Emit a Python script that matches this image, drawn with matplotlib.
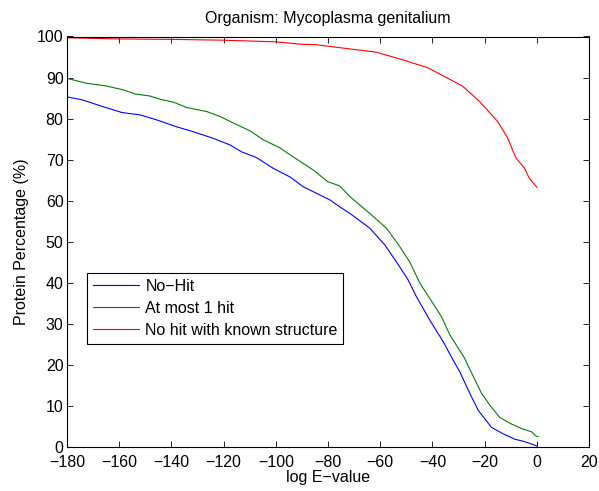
import matplotlib
matplotlib.use("Agg")
import matplotlib.pyplot as plt

plt.rcParams['font.family'] = ['Liberation Sans', 'DejaVu Sans']

title = "Organism: Mycoplasma genitalium"
xlabel = "log E\u2212value"
ylabel = "Protein Percentage (%)"
labels = ["No\u2212Hit", "At most 1 hit", "No hit with known structure"]

nohit_x = [-180, -173.8, -166.2, -159.1, -152, -145.7, -138, -131.6, -124, -117.6, -113.1, -107.4,
           -101, -94.6, -89.5, -84.4, -79.3, -75.5, -71.6, -64, -58.2, -53.8, -49.3, -46.1, -41,
           -35.9, -32.1, -29.5, -25.7, -22.5, -17.4, -12.9, -8.4, -4.6, 0]
nohit_y = [85.3, 84.5, 82.9, 81.5, 80.9, 79.7, 78.0, 76.8, 75.2, 73.6, 71.9, 70.5,
           67.9, 65.8, 63.4, 61.8, 60.2, 58.5, 56.9, 53.3, 49.2, 45.1, 40.7, 36.6, 30.9,
           25.7, 21.2, 18.3, 13.1, 9.0, 4.8, 3.2, 1.9, 1.3, 0.25]

one_x = [-180, -172.5, -165.4, -158.4, -153.9, -148.2, -144.3, -139.2, -134.1, -126.4, -121.3,
         -116.2, -109.8, -104.7, -98.5, -93.4, -85.7, -80, -75.5, -71.6, -64, -57.6, -52.5, -48.7,
         -44.8, -41, -36.5, -33.3, -28, -23.8, -21.2, -18, -14.2, -9.7, -5.9, -2, -0.4, 0.5]
one_y = [89.8, 88.6, 88.0, 87.0, 86.0, 85.5, 84.7, 84.0, 82.7, 81.7, 80.5,
         78.9, 77.0, 74.8, 72.9, 70.7, 67.5, 64.6, 63.6, 61.0, 56.9, 53.3, 48.8, 45.1,
         39.9, 36.2, 31.7, 27.3, 22.0, 16.5, 13.1, 10.2, 7.2, 5.6, 4.5, 3.7, 2.7, 2.5]

struct_x = [-180, -160, -140, -120, -100, -90, -84.6, -72, -61.6, -52.9, -41.8, -28.4, -22, -15,
            -11.2, -8, -4.8, -2.9, 0]
struct_y = [99.7, 99.4, 99.3, 99.1, 98.7, 98.1, 98.0, 97.0, 96.2, 94.6, 92.4, 87.9, 84.2, 79.3,
            75.3, 70.4, 68.0, 65.5, 63.3]

FS = 11.5
fig = plt.figure(figsize=(5.99, 4.91), dpi=100)
ax = fig.add_axes([67/599, 1-447/491, 522/599, 410.5/491])

ax.plot(nohit_x, nohit_y, color=(0, 0, 1), lw=0.8, label=labels[0])
ax.plot(one_x, one_y, color=(0, 0.5, 0), lw=0.8, label=labels[1])
ax.plot(struct_x, struct_y, color=(1, 0, 0), lw=0.8, label=labels[2])

ax.set_xlim(-180, 20)
ax.set_ylim(0, 100)
ax.set_xticks(range(-180, 21, 20))
ax.set_yticks(range(0, 101, 10))
ax.tick_params(direction='in', top=True, right=True, labelsize=FS, length=4, width=0.6, pad=2.5)
ax.tick_params(axis='x', pad=6)
for s in ax.spines.values():
    s.set_linewidth(0.8)

ax.set_title(title, fontsize=FS, pad=9.5)
ax.set_xlabel(xlabel, fontsize=FS, labelpad=0)
ax.set_ylabel(ylabel, fontsize=FS, labelpad=5.5)

leg = ax.legend(loc='upper left', bbox_to_anchor=(20/522, 174/410.5), borderaxespad=0,
                fontsize=FS, fancybox=False, edgecolor='black', framealpha=1,
                handlelength=2.9, handletextpad=0.4, borderpad=0.35, labelspacing=0.45)
leg.get_frame().set_linewidth(0.8)

fig.savefig("out.png", dpi=100)
